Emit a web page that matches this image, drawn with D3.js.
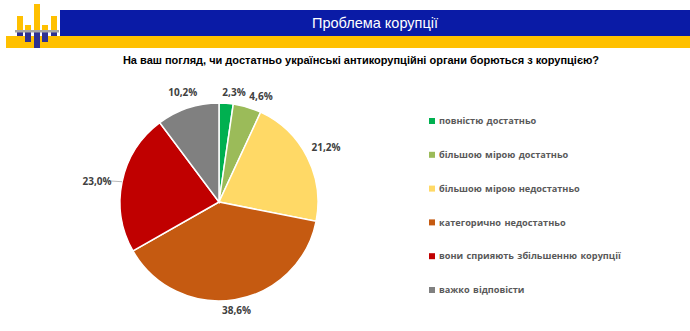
<!DOCTYPE html>
<html><head><meta charset="utf-8">
<script src="https://cdn.jsdelivr.net/npm/d3@7"></script>
<style>body{margin:0;background:#fff}svg{display:block}</style>
</head><body>
<script>
const categories = ["повністю достатньо","більшою мірою достатньо","більшою мірою недостатньо","категорично недостатньо","вони сприяють збільшенню корупції","важко відповісти"];
const values = [2.3, 4.6, 21.2, 38.6, 23.0, 10.2];
const labels = ["2,3%","4,6%","21,2%","38,6%","23,0%","10,2%"];
const colors = ["#00B050","#9BBB59","#FFD966","#C55A11","#C00000","#808080"];
const bannerTitle = "Проблема корупції";
const question = "На ваш погляд, чи достатньо українські антикорупційні органи борються з корупцією?";

const W=690,H=331;
const svg=d3.select("body").append("svg").attr("width",W).attr("height",H);

// header
svg.append("rect").attr("x",6).attr("y",36).attr("width",W-6).attr("height",12).attr("fill","#FFC000");
svg.append("rect").attr("x",60).attr("y",10).attr("width",W-60).attr("height",26).attr("fill","#0A1BA6");
svg.append("text").attr("x",375).attr("y",28).attr("text-anchor","middle").attr("fill","#fff")
  .style("font-family","'Liberation Sans Narrow','Arial Narrow',sans-serif").style("font-size","14.5px").text(bannerTitle);
// logo
const logoTop=[16,25,4,25,16], logoBot=[36,42,48,42,36], logoX=[17,25,34,42,51];
logoX.forEach((x,i)=>{
  svg.append("rect").attr("x",x).attr("y",logoTop[i]).attr("width",6).attr("height",31-logoTop[i]).attr("fill","#FFC000");
  svg.append("rect").attr("x",x).attr("y",32).attr("width",6).attr("height",logoBot[i]-32).attr("fill","#2E3192");
});
svg.append("rect").attr("x",15).attr("y",30).attr("width",44).attr("height",2.5).attr("fill","#A6A6A6");

svg.append("text").attr("x",361).attr("y",64).attr("text-anchor","middle").attr("fill","#000")
  .style("font-family","'Liberation Sans',Arial,sans-serif").style("font-weight","bold").style("font-size","11px").text(question);

// pie
const cx=219,cy=202,r=99;
const pie=d3.pie().sort(null).value(d=>d)(values);
const arc=d3.arc().innerRadius(0).outerRadius(r);
const g=svg.append("g").attr("transform",`translate(${cx},${cy})`);
g.selectAll("path").data(pie).join("path").attr("d",arc).attr("fill",(d,i)=>colors[i]).attr("stroke","#fff").attr("stroke-width",1.5);

const labelFont="'Open Sans','Liberation Sans',sans-serif";
const lblR=[112,112,120,110,118,115];
pie.forEach((d,i)=>{
  const a=(d.startAngle+d.endAngle)/2;
  let rr=lblR[i];
  let x=Math.sin(a)*rr, y=-Math.cos(a)*rr;
  if(i===0){x=15;y=-110;}
  if(i===1){x=42;y=-106;}
  if(i===4){
    const ex=Math.sin(a)*r, ey=-Math.cos(a)*r;
    g.append("path").attr("d",`M${ex},${ey} L${-108},${-21}`).attr("stroke","#A6A6A6").attr("fill","none").attr("stroke-width",0.8);
    x=-122;y=-21;
  }
  g.append("text").attr("x",x).attr("y",y).attr("dy","0.35em").attr("text-anchor","middle")
   .attr("fill","#404040").style("font-family",labelFont).style("font-weight","bold").style("font-size","10px").text(labels[i]);
});

// legend
const ly=d3.scalePoint().domain(categories).range([121,290]);
const lg=svg.append("g");
categories.forEach((c,i)=>{
  lg.append("rect").attr("x",429).attr("y",ly(c)-3).attr("width",6).attr("height",6).attr("fill",colors[i]);
  lg.append("text").attr("x",439).attr("y",ly(c)).attr("dy","0.35em").attr("fill","#595959")
    .style("font-family",labelFont).style("font-weight","bold").style("font-size","9.2px").style("word-spacing","1px").text(c);
});
</script>
</body></html>
